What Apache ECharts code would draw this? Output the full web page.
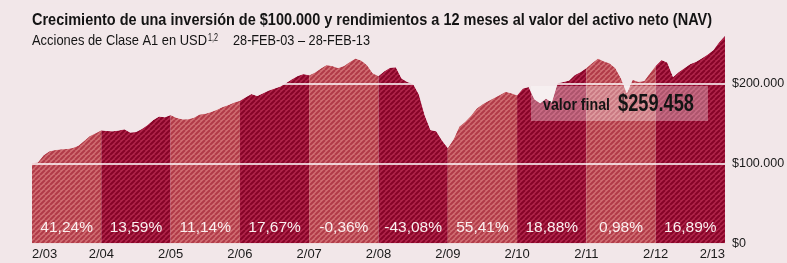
<!DOCTYPE html>
<html>
<head>
<meta charset="utf-8">
<script src="https://cdn.jsdelivr.net/npm/echarts@6/dist/echarts.min.js"></script>
<style>
html,body{margin:0;padding:0;background:#f2e7e9;}
#c{width:787px;height:263px;}
</style>
</head>
<body>
<div id="c"></div>
<script>
// ---- data ----
const tickLabels = ['2/03','2/04','2/05','2/06','2/07','2/08','2/09','2/10','2/11','2/12','2/13'];
const yearReturns = ['41,24%','13,59%','11,14%','17,67%','-0,36%','-43,08%','55,41%','18,88%','0,98%','16,89%'];
// monthly value of the investment, thousands of USD, Feb-03 .. Feb-13
const navThousands = [
  100, 101, 110, 115, 116.5, 117.5, 118, 119, 122, 128, 134, 137.5,
  141.2, 140.5, 140, 141, 142.5, 138.5, 139, 143, 148, 154, 158.5, 157.5,
  160.4, 157, 155, 155, 157, 161, 162, 164, 167, 170.5, 173, 176,
  178.3, 182.5, 186.5, 184, 187.5, 191, 193.5, 196, 200.5, 205, 209, 211.5,
  210, 213.5, 218.5, 222.9, 221.5, 219, 221.5, 226.5, 231, 228.5, 223, 212.5,
  209, 215, 219.5, 220, 206, 201.5, 199, 186, 160, 141.5, 140, 128.5,
  119, 130, 146, 152, 159.5, 168.5, 173.8, 178, 181.5, 185.3, 189.5, 187.5,
  185, 193.5, 195.5, 180, 175, 181, 176, 200, 201.5, 203.5, 210.5, 214,
  219, 225.5, 231, 227.5, 225, 219, 206, 187.5, 204.5, 202, 203, 212.5,
  222, 229, 226, 208, 214, 219, 224, 227, 231.3, 236, 241.5, 251.5,
  259.458
];
const yTicks = [0, 100, 200];
const titleText = 'Crecimiento de una inversión de $100.000 y rendimientos a 12 meses al valor del activo neto (NAV)';
const subtitleText = 'Acciones de Clase A1 en USD';
const subtitleSup = '1,2';
const periodText = '28-FEB-03 – 28-FEB-13';
const calloutLabel = 'valor final';
const finalValue = '$259.458';

// ---- styles ----
const BG = '#f2e7e9';
const SANS = '"Liberation Sans",Arial,sans-serif';

function stripeTile(base, stripe, size, w) {
  const c = document.createElement('canvas');
  c.width = c.height = size;
  const g = c.getContext('2d');
  g.fillStyle = base; g.fillRect(0, 0, size, size);
  g.strokeStyle = stripe; g.lineWidth = w;
  g.beginPath();
  for (const o of [-size, 0, size]) { g.moveTo(o, size); g.lineTo(o + size, 0); }
  g.stroke();
  return c;
}
const lightPat = { image: stripeTile('#d06e73', '#b03a48', 5, 2), repeat: 'repeat' };
const darkPat  = { image: stripeTile('#b0264b', '#860427', 5, 2), repeat: 'repeat' };

// condensed look: draw regular font and squeeze horizontally to the reference width
const mctx = document.createElement('canvas').getContext('2d');
function fitText(text, font, x, y, targetW, va) {
  mctx.font = font;
  const w = mctx.measureText(text).width;
  return { type: 'text', x: x, y: y, scaleX: targetW / w, z: 101,
    style: { text: text, font: font, fill: '#141414', verticalAlign: va || 'top', align: 'left' } };
}

const yearSeries = yearReturns.map((r, k) => ({
  type: 'line',
  z: 1,
  silent: true,
  showSymbol: false,
  data: navThousands.slice(k * 12, k * 12 + 13).map((v, i) => [k * 12 + i, v]),
  lineStyle: { width: 0, opacity: 0 },
  areaStyle: { color: k % 2 === 0 ? lightPat : darkPat, opacity: 1, origin: 'start' }
}));

const maskSeries = {
  type: 'line',
  z: 3,
  silent: true,
  showSymbol: false,
  data: navThousands.map((v, i) => [i, v]),
  lineStyle: { width: 0, opacity: 0 },
  areaStyle: { color: BG, opacity: 1, origin: 'end' },
  markLine: {
    z: 2, silent: true, symbol: 'none',
    label: { show: false },
    lineStyle: { color: '#ffffff', width: 1.5, type: 'solid', opacity: 1 },
    data: yTicks.filter(v => v > 0).map(v => ({ yAxis: v }))
  },
  markArea: {
    z: 4, silent: true,
    itemStyle: { color: 'rgba(0,0,0,0)' },
    label: {
      show: true, position: 'insideBottom', distance: 8,
      color: '#fbf0f0', fontFamily: SANS, fontSize: 15.5, formatter: '{b}'
    },
    data: yearReturns.map((r, k) => [
      { xAxis: k * 12, yAxis: 0, name: r },
      { xAxis: (k + 1) * 12, yAxis: 60 }
    ])
  }
};

const chart = echarts.init(document.getElementById('c'), null, { renderer: 'canvas' });
chart.setOption({
  backgroundColor: BG,
  animation: false,
  grid: { left: 32, right: 62, top: 3.3, bottom: 19.7, containLabel: false, outerBoundsMode: 'none' },
  xAxis: {
    type: 'value', min: 0, max: 120, interval: 12,
    axisLine: { show: false }, axisTick: { show: false }, splitLine: { show: false },
    axisLabel: {
      margin: 5, fontFamily: SANS, fontSize: 13, color: '#1a1a1a',
      alignMinLabel: 'left', alignMaxLabel: 'right',
      formatter: v => tickLabels[Math.round(v / 12)] || ''
    }
  },
  yAxis: {
    type: 'value', position: 'right', min: 0, max: 300, interval: 100,
    axisLine: { show: false }, axisTick: { show: false }, splitLine: { show: false },
    axisLabel: {
      margin: 7, fontFamily: SANS, fontSize: 12.5, color: '#1a1a1a',
      formatter: v => yTicks.indexOf(v) < 0 ? '' : (v === 0 ? '$0' : '$' + v + '.000')
    }
  },
  series: yearSeries.concat([maskSeries]),
  graphic: [
    fitText(titleText, 'bold 16px ' + SANS, 32, 12.5, 680),
    fitText(subtitleText, '15px ' + SANS, 32, 33.5, 175),
    fitText(subtitleSup, '10px ' + SANS, 208, 33, 10),
    fitText(periodText, '15px ' + SANS, 233, 33.5, 137),
    { type: 'rect', z: 100, shape: { x: 531, y: 86, width: 177, height: 35 },
      style: { fill: 'rgba(255,255,255,0.32)' } },
    fitText(calloutLabel, 'bold 16px ' + SANS, 543, 106, 67, 'middle'),
    fitText(finalValue, 'bold 23px ' + SANS, 618, 105, 76, 'middle')
  ]
});
</script>
</body>
</html>
